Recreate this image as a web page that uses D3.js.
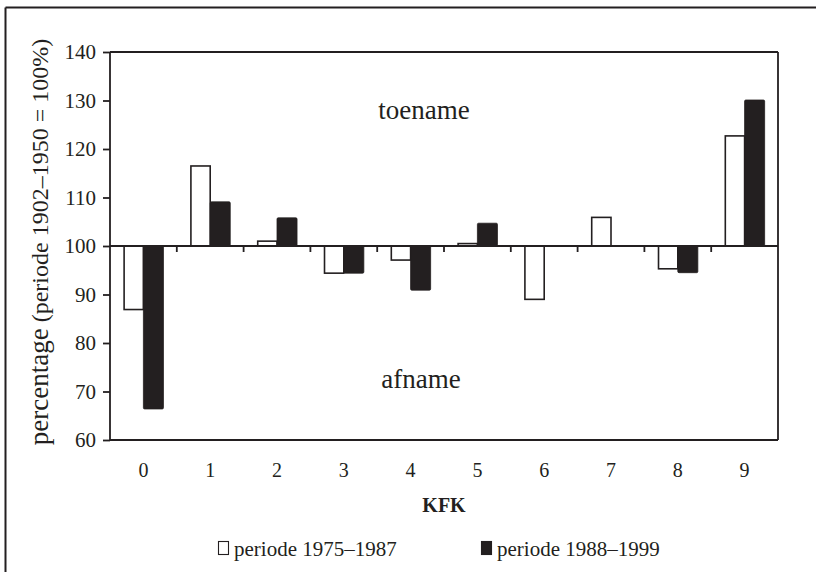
<!DOCTYPE html>
<html>
<head>
<meta charset="utf-8">
<script src="https://cdn.jsdelivr.net/npm/d3@7/dist/d3.min.js"></script>
<style>
  html, body { margin: 0; padding: 0; background: #fff; }
  svg { display: block; }
  text { font-family: "Liberation Serif", "Times New Roman", serif; fill: #231f20; }
</style>
</head>
<body>
<svg id="chart" width="816" height="572"></svg>
<script>
// ---- data ----
const categories = ["0", "1", "2", "3", "4", "5", "6", "7", "8", "9"];
const seriesNames = ["periode 1975\u20131987", "periode 1988\u20131999"];
const period1 = [86.9, 116.5, 101.0, 94.4, 97.1, 100.5, 89.0, 105.9, 95.3, 122.7];
const period2 = [66.4, 109.1, 105.8, 94.4, 90.9, 104.7, null, null, 94.5, 130.1];
const yTicks = [60, 70, 80, 90, 100, 110, 120, 130, 140];
const baseValue = 100;
const yLabelMain = "percentage";
const yLabelSub = " (periode 1902\u20131950 = 100%)";
const xTitle = "KFK";
const upText = "toename";
const downText = "afname";

const ink = "#231f20";
const svg = d3.select("#chart");

// outer frame (top + left)
svg.append("line").attr("x1", 5.5).attr("x2", 816).attr("y1", 7.5).attr("y2", 7.5)
  .attr("stroke", ink).attr("stroke-width", 2);
svg.append("line").attr("x1", 5.5).attr("x2", 5.5).attr("y1", 7.5).attr("y2", 572)
  .attr("stroke", ink).attr("stroke-width", 2);

const L = 110, R = 778, T = 52, B = 440;
const x = d3.scaleBand().domain(categories).range([L, R]).paddingInner(0.4).paddingOuter(0.2);
const xs = d3.scaleBand().domain([0, 1]).range([0, x.bandwidth()]).padding(0);
const y = d3.scaleLinear().domain([60, 140]).range([B, T]);

const data = categories.map((c, i) => ({ c, vals: [period1[i], period2[i]] }));

// bars
const g = svg.append("g");
data.forEach(d => {
  d.vals.forEach((v, s) => {
    if (v == null) return;
    const y0 = y(Math.max(v, baseValue)), y1 = y(Math.min(v, baseValue));
    g.append("rect")
      .attr("x", x(d.c) + xs(s) + (s === 0 ? 0.75 : 0))
      .attr("y", y0)
      .attr("width", xs.bandwidth() - (s === 0 ? 0.75 : 0))
      .attr("height", Math.max(0.5, y1 - y0))
      .attr("rx", s === 1 ? 1.2 : 0)
      .attr("fill", s === 0 ? "#fff" : ink)
      .attr("stroke", ink)
      .attr("stroke-width", s === 0 ? 1.6 : 0.8);
  });
});

// y axis
const yAxis = d3.axisLeft(y).tickValues(yTicks).tickSize(7).tickPadding(7).tickFormat(d3.format("d"));
const ya = svg.append("g").attr("transform", `translate(${L},0)`).call(yAxis);
ya.select(".domain").remove();
ya.selectAll(".tick line").attr("stroke", ink).attr("stroke-width", 1.8);
ya.selectAll(".tick text").attr("font-size", 21).attr("font-family", "Liberation Serif").attr("fill", ink);

// frame of plot area
const frame = svg.append("g").attr("stroke", ink).attr("stroke-width", 1.8).attr("fill", "none");
frame.append("line").attr("x1", L).attr("x2", L).attr("y1", T).attr("y2", B);
frame.append("line").attr("x1", R).attr("x2", R).attr("y1", T).attr("y2", B);
frame.append("line").attr("x1", L).attr("x2", R).attr("y1", T).attr("y2", T);
frame.append("line").attr("x1", L).attr("x2", R).attr("y1", B).attr("y2", B);

// baseline at 100 with category separator ticks
const yb = y(baseValue);
svg.append("line").attr("x1", L).attr("x2", R).attr("y1", yb).attr("y2", yb)
  .attr("stroke", ink).attr("stroke-width", 1.8);
categories.slice(1).forEach(c => {
  const bx = x(c) - x.step() * x.paddingInner() / 2;
  svg.append("line").attr("x1", bx).attr("x2", bx).attr("y1", yb).attr("y2", yb + 6)
    .attr("stroke", ink).attr("stroke-width", 1.8);
});

// x labels
svg.append("g").selectAll("text").data(categories).join("text")
  .attr("x", d => x(d) + x.bandwidth() / 2)
  .attr("y", 477)
  .attr("text-anchor", "middle")
  .attr("font-size", 20)
  .text(d => d);

// x title
svg.append("text").attr("x", (L + R) / 2).attr("y", 512).attr("text-anchor", "middle")
  .attr("font-size", 20).attr("font-weight", "bold").text(xTitle);

// y label
const yl = svg.append("text")
  .attr("transform", `translate(48,${(T + B) / 2 - 4}) rotate(-90)`)
  .attr("text-anchor", "middle");
yl.append("tspan").attr("font-size", 27).text(yLabelMain);
yl.append("tspan").attr("font-size", 24).text(yLabelSub);

// annotations
svg.append("text").attr("x", 424).attr("y", 119).attr("text-anchor", "middle")
  .attr("font-size", 27).text(upText);
svg.append("text").attr("x", 421).attr("y", 388).attr("text-anchor", "middle")
  .attr("font-size", 27).text(downText);

// legend
const legendItems = [
  { name: seriesNames[0], fill: "#fff", x: 218 },
  { name: seriesNames[1], fill: ink, x: 481 }
];
legendItems.forEach(it => {
  svg.append("rect").attr("x", it.x + 0.5).attr("y", 541.5).attr("width", 10).attr("height", 13)
    .attr("fill", it.fill).attr("stroke", ink).attr("stroke-width", 1.1);
  svg.append("text").attr("x", it.x + 16).attr("y", 556).attr("font-size", 21).text(it.name);
});
</script>
</body>
</html>
